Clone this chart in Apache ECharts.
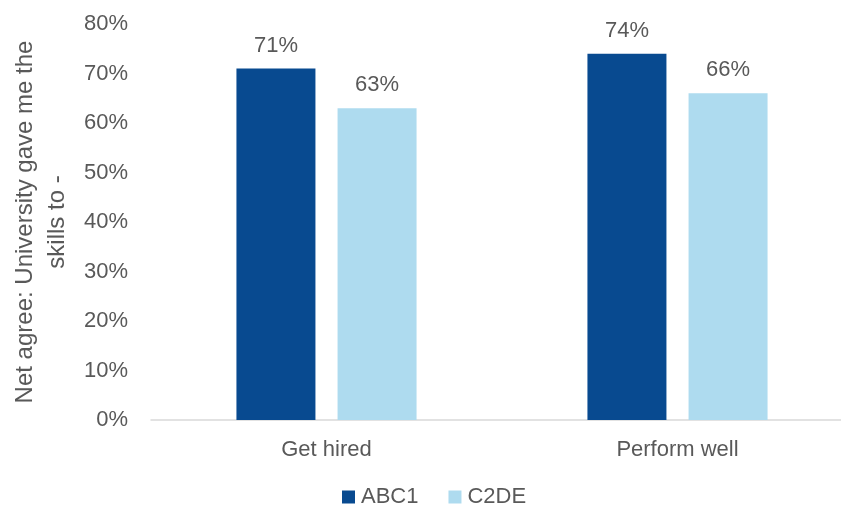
<!DOCTYPE html>
<html><head><meta charset="utf-8">
<script src="https://cdn.jsdelivr.net/npm/echarts@6/dist/echarts.min.js"></script>
<style>html,body{margin:0;padding:0;background:#fff}#c{width:841px;height:515px}</style>
</head><body><div id="c"></div>
<script>
const categories = ['Get hired', 'Perform well'];
const seriesNames = ['ABC1', 'C2DE'];
const abc1 = [71, 74];
const c2de = [63, 66];
const yTicks = [0, 10, 20, 30, 40, 50, 60, 70, 80];

const font = 'Liberation Sans';
const chart = echarts.init(document.getElementById('c'));
chart.setOption({
  animation: false,
  textStyle: { fontFamily: font },
  grid: { left: 151, right: -12, top: 24, bottom: 95, containLabel: false, outerBoundsMode: 'none' },
  legend: {
    data: seriesNames, bottom: 2, left: 337, itemWidth: 13, itemHeight: 13, itemGap: 30,
    icon: 'rect', textStyle: { fontSize: 22, color: '#595959', fontFamily: font, padding: [0, 0, 0, 1] }
  },
  xAxis: {
    type: 'category', data: categories,
    axisLine: { lineStyle: { color: '#d9d9d9', width: 1.5 } },
    axisTick: { show: false },
    axisLabel: { fontSize: 22, color: '#595959', margin: 19 }
  },
  yAxis: {
    type: 'value', min: yTicks[0], max: yTicks[yTicks.length - 1], interval: 10,
    name: 'Net agree: University gave me the\nskills to -',
    nameLocation: 'middle', nameGap: 78, nameRotate: 90,
    nameTextStyle: { fontSize: 24, color: '#595959', lineHeight: 32 },
    axisLine: { show: false }, axisTick: { show: false }, splitLine: { show: false },
    axisLabel: { fontSize: 22, color: '#595959', margin: 23, formatter: v => v + '%' }
  },
  series: [
    { name: seriesNames[0], type: 'bar', data: abc1, barWidth: 79, barGap: '28%',
      itemStyle: { color: '#084A90' },
      label: { show: true, position: 'top', distance: 12, fontSize: 22, color: '#595959', formatter: p => p.value + '%' } },
    { name: seriesNames[1], type: 'bar', data: c2de, barWidth: 79,
      itemStyle: { color: '#AEDBEF' },
      label: { show: true, position: 'top', distance: 12, fontSize: 22, color: '#595959', formatter: p => p.value + '%' } }
  ]
});
</script></body></html>
